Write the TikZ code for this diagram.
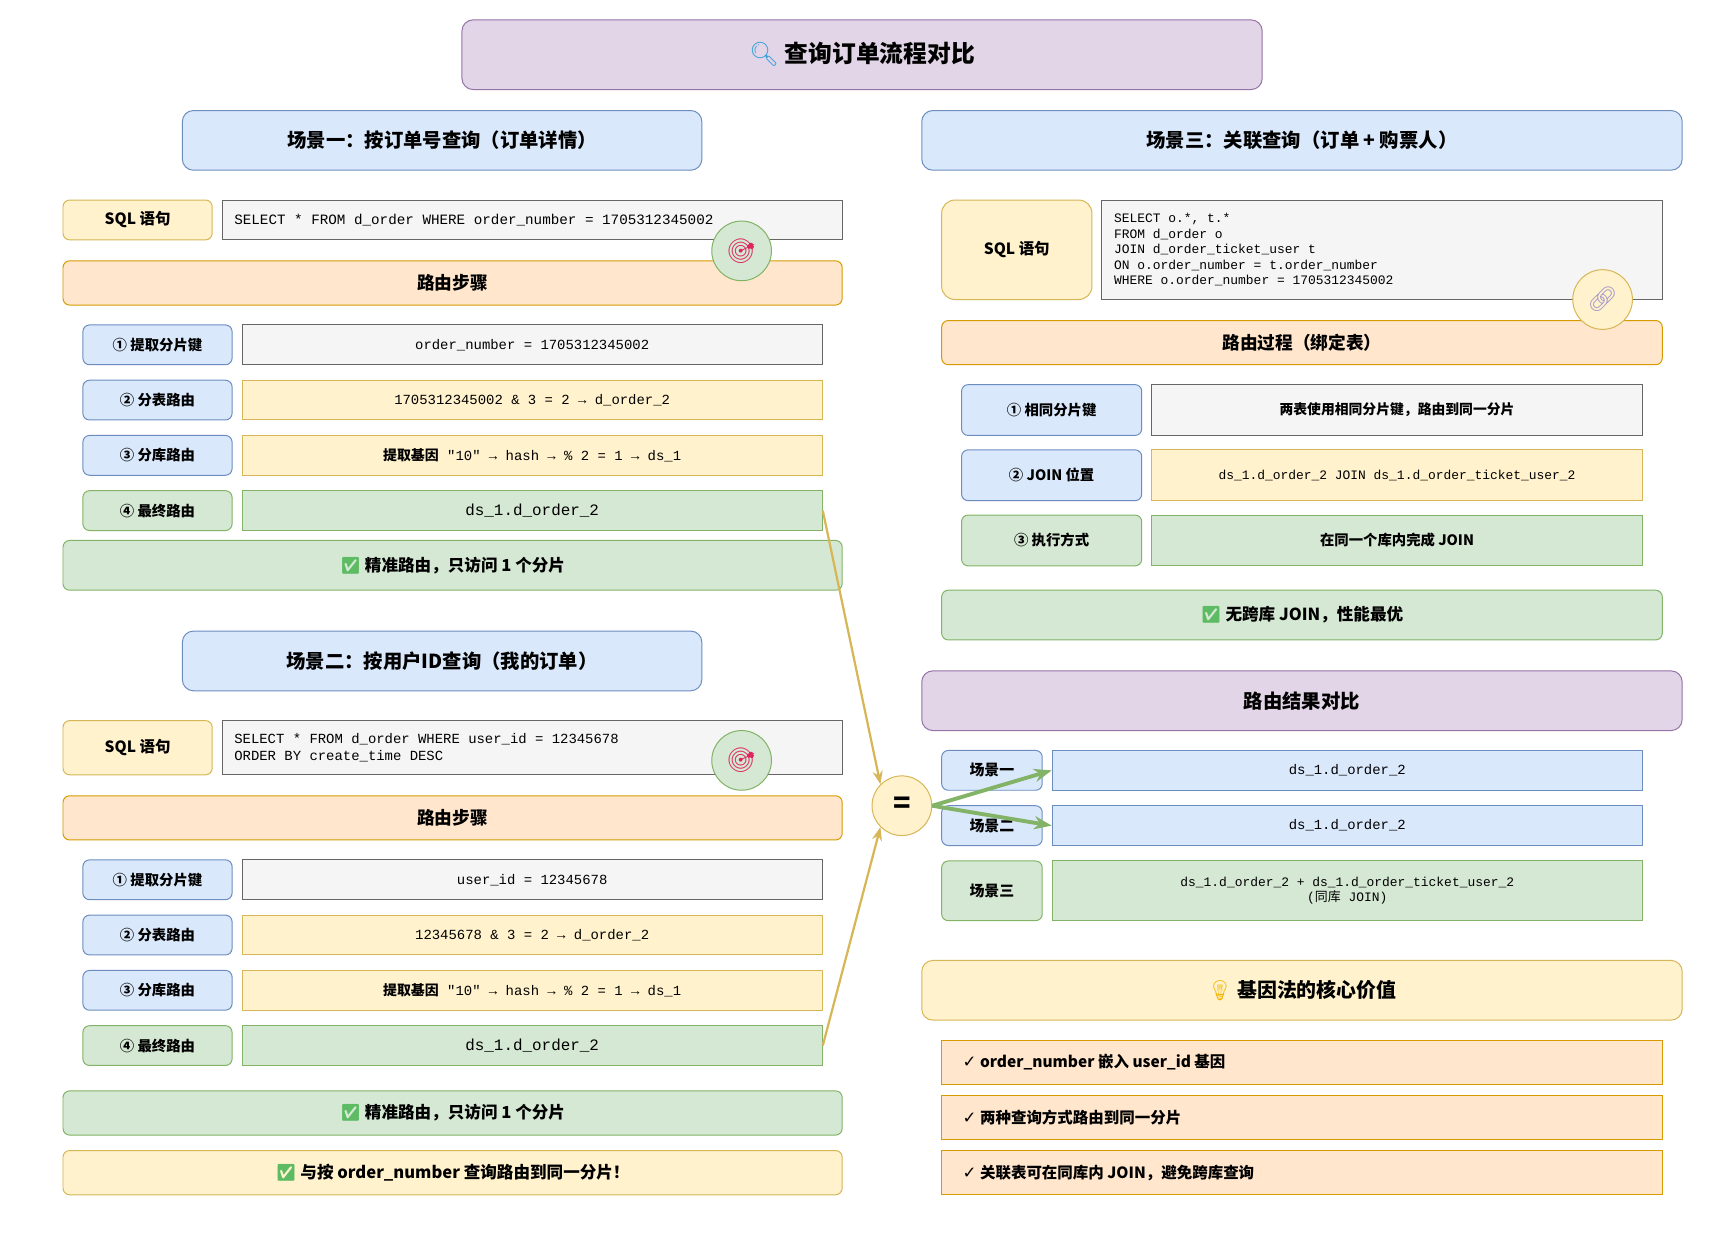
\documentclass[tikz,border=0pt]{standalone}
\usepackage{fontspec}
\setmainfont{Noto Sans CJK SC}
\setmonofont{Liberation Mono}
\newfontfamily\emoji{Noto Emoji}
\newfontfamily\symfont{DejaVu Sans}
\usetikzlibrary{arrows.meta}
\definecolor{bluefill}{HTML}{DAE8FC}
\definecolor{blueline}{HTML}{6C8EBF}
\definecolor{yelfill}{HTML}{FFF2CC}
\definecolor{yelline}{HTML}{D6B656}
\definecolor{orafill}{HTML}{FFE6CC}
\definecolor{oraline}{HTML}{D79B00}
\definecolor{grnfill}{HTML}{D5E8D4}
\definecolor{grnline}{HTML}{82B366}
\definecolor{purfill}{HTML}{E1D5E7}
\definecolor{purline}{HTML}{9673A6}
\definecolor{gryfill}{HTML}{F5F5F5}
\definecolor{gryline}{HTML}{666666}
\definecolor{okgreen}{HTML}{5DBB63}
\definecolor{lensblue}{HTML}{3B9FD8}
\definecolor{aimred}{HTML}{E0245E}
\definecolor{linkgray}{HTML}{A99CC8}
\definecolor{bulbcol}{HTML}{F2B400}
\newcommand{\okmark}{{\emoji\color{okgreen}✅}}

\begin{document}
\begin{tikzpicture}[x=1pt, y=-1pt,
    every node/.style={draw, line width=0.9pt, inner sep=0pt, font=\bfseries},
    wh/.style 2 args={minimum width=#1pt, minimum height=#2pt},
    fs/.style={font=\bfseries\fontsize{#1}{#1}\selectfont},
    code/.style 2 args={font=\ttfamily\fontsize{#1}{#2}\selectfont},
    blu/.style={fill=bluefill, draw=blueline},
    yel/.style={fill=yelfill, draw=yelline},
    ora/.style={fill=orafill, draw=oraline},
    grn/.style={fill=grnfill, draw=grnline},
    pur/.style={fill=purfill, draw=purline},
    gry/.style={fill=gryfill, draw=gryline},
    tag/.style={rounded corners=6pt},
    hdr/.style={rounded corners=10pt},
    icon/.style={circle, minimum size=54pt, font=\emoji\fontsize{22}{22}\selectfont},
    goldarrow/.style={draw=yelline, line width=2pt, -{Stealth[length=12pt, width=9pt]}},
    greenarrow/.style={draw=grnline, line width=3.5pt, -{Stealth[length=16pt, width=12pt]}}]
  \path[fill=white, use as bounding box] (0,0) rectangle (1568,1124.7);

  \node[pur, hdr, wh={724}{63}, fs=21.5] (title) at (780,49.5) {{\emoji\color{lensblue}🔍} 查询订单流程对比};
  \node[blu, hdr, wh={470}{54}, fs=17.5] (s1) at (400,127) {场景一：按订单号查询（订单详情）};
  \node[blu, hdr, wh={470}{54}, fs=17.5] (s2) at (400,598) {场景二：按用户ID查询（我的订单）};
  \node[blu, hdr, wh={688}{54}, fs=17.5] (s3) at (1178,127) {场景三：关联查询（订单 + 购票人）};

  \node[yel, tag, wh={135}{36}, fs=14] (s1sqlk) at (124.5,199) {SQL 语句};
  \node[gry, wh={561}{36}, text width=539pt, inner xsep=11pt, align=flush left, code={12.9}{16}] (s1sql) at (481.5,199)
    {SELECT * FROM d\_order WHERE order\_number = 1705312345002};
  \node[yel, tag, wh={135}{49}, fs=14] (s2sqlk) at (124.5,676.5) {SQL 语句};
  \node[gry, wh={561}{49}, text width=539pt, inner xsep=11pt, align=flush left, code={12.6}{16}] (s2sql) at (481.5,676.5)
    {SELECT * FROM d\_order WHERE user\_id = 12345678\\ORDER BY create\_time DESC};

  \foreach \s/\dy/\kval/\tval in {1/0/order\_number = 1705312345002/1705312345002,
                                  2/484/user\_id = 12345678/12345678} {
    \node[ora, tag, wh={705}{40}, fs=16] (s\s-route) at (409.5,256+\dy) {路由步骤};
    \node[blu, tag, wh={135}{36}, fs=13] (s\s-k1) at (142.5,312+\dy) {① 提取分片键};
    \node[gry, wh={525}{36}, code={12.6}{15}] (s\s-v1) at (481.5,312+\dy) {\kval};
    \node[blu, tag, wh={135}{36}, fs=13] (s\s-k2) at (142.5,362+\dy) {② 分表路由};
    \node[yel, wh={525}{36}, code={12.6}{15}] (s\s-v2) at (481.5,362+\dy) {\tval{} \& 3 = 2 → d\_order\_2};
    \node[blu, tag, wh={135}{36}, fs=13] (s\s-k3) at (142.5,412+\dy) {③ 分库路由};
    \node[yel, wh={525}{36}, code={12.6}{15}] (s\s-v3) at (481.5,412+\dy)
      {{\rmfamily\bfseries 提取基因} "10" → hash → \% 2 = 1 → ds\_1};
    \node[grn, tag, wh={135}{36}, fs=13] (s\s-k4) at (142.5,462+\dy) {④ 最终路由};
    \node[grn, wh={525}{36}, code={14.4}{16}] (s\s-v4) at (481.5,462+\dy) {ds\_1.d\_order\_2};
  }

  \node[grn, tag, wh={705}{45}, fs=15] (s1ok) at (409.5,511.5) {\okmark{} 精准路由，只访问 1 个分片};
  \node[grn, tag, wh={705}{40}, fs=15] (s2ok) at (409.5,1007) {\okmark{} 精准路由，只访问 1 个分片};
  \node[yel, tag, wh={705}{40}, fs=15] (s2same) at (409.5,1061) {\okmark{} 与按 order\_number 查询路由到同一分片！};

  \node[yel, rounded corners=12pt, wh={136}{90}, fs=14] (s3sqlk) at (920,226) {SQL 语句};
  \node[gry, wh={507}{90}, text width=485pt, inner xsep=11pt, align=flush left, code={11.7}{14}] (s3sql) at (1250.5,226)
    {SELECT o.*, t.*\\FROM d\_order o\\JOIN d\_order\_ticket\_user t\\ON o.order\_number = t.order\_number\\WHERE o.order\_number = 1705312345002};
  \node[ora, tag, wh={652}{40}, fs=16] (s3route) at (1178,310) {路由过程（绑定表）};
  \node[blu, tag, wh={163}{46}, fs=13] (s3k1) at (951.5,371) {① 相同分片键};
  \node[gry, wh={444}{46}, fs=12.5] (s3v1) at (1264,371) {两表使用相同分片键，路由到同一分片};
  \node[blu, tag, wh={163}{46}, fs=13] (s3k2) at (951.5,430) {② JOIN 位置};
  \node[yel, wh={444}{46}, code={11.7}{14}] (s3v2) at (1264,430) {ds\_1.d\_order\_2 JOIN ds\_1.d\_order\_ticket\_user\_2};
  \node[grn, tag, wh={163}{46}, fs=13] (s3k3) at (951.5,489) {③ 执行方式};
  \node[grn, wh={444}{46}, fs=13] (s3v3) at (1264,489) {在同一个库内完成 JOIN};
  \node[grn, tag, wh={652}{45}, fs=15] (s3ok) at (1178,556.5) {\okmark{} 无跨库 JOIN，性能最优};

  \node[pur, hdr, wh={688}{54}, fs=17.5] (cmp) at (1178,634) {路由结果对比};
  \node[blu, tag, wh={91}{36}, fs=13.5] (r1k) at (897.5,697) {场景一};
  \node[blu, wh={534}{36}, code={12.6}{15}] (r1v) at (1219,697) {ds\_1.d\_order\_2};
  \node[blu, tag, wh={91}{36}, fs=13.5] (r2k) at (897.5,747) {场景二};
  \node[blu, wh={534}{36}, code={12.6}{15}] (r2v) at (1219,747) {ds\_1.d\_order\_2};
  \node[grn, tag, wh={91}{54}, fs=13.5] (r3k) at (897.5,806) {场景三};
  \node[grn, wh={534}{54}, align=center, code={11.7}{14}] (r3v) at (1219,806)
    {ds\_1.d\_order\_2 + ds\_1.d\_order\_ticket\_user\_2\\({\rmfamily 同库} JOIN)};

  \node[yel, hdr, wh={688}{54}, fs=18] (gene) at (1178,896) {{\emoji\color{bulbcol}💡} 基因法的核心价值};
  \foreach \n/\cy/\t in {1/961/order\_number 嵌入 user\_id 基因,
                         2/1011/两种查询方式路由到同一分片,
                         3/1061/关联表可在同库内 JOIN，避免跨库查询}
    \node[ora, wh={652}{40}, text width=614pt, inner xsep=19pt, align=flush left, fs=14] (gene\n) at (1178,\cy)
      {{\symfont\mdseries\fontsize{15}{15}\selectfont ✓} \t};

  \node[grn, icon] (s1aim) at (671,227) {\color{aimred}🎯};
  \node[grn, icon] (s2aim) at (671,688) {\color{aimred}🎯};
  \node[yel, icon] (s3link) at (1450,271) {\color{linkgray}🔗};
  \node[yel, circle, minimum size=54pt, fs=26] (eq) at (816,729) {=};

  \draw[goldarrow] (s1-v4.east) -- (eq.135);
  \draw[goldarrow] (s2-v4.east) -- (eq.225);
  \draw[greenarrow] (eq.east) -- (r1v.west);
  \draw[greenarrow] (eq.east) -- (r2v.west);
\end{tikzpicture}
\end{document}
